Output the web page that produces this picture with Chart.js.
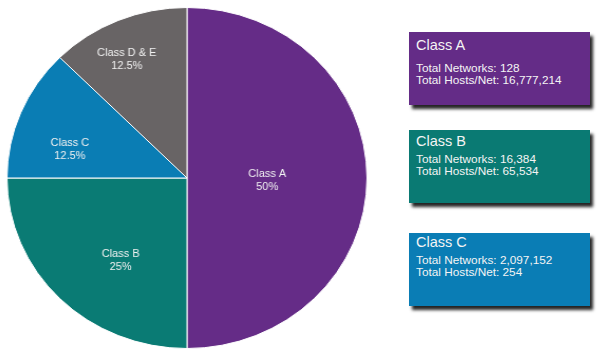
<!DOCTYPE html>
<html>
<head>
<meta charset="utf-8">
<script src="https://cdn.jsdelivr.net/npm/chart.js@4"></script>
<style>
  html, body { margin: 0; padding: 0; background: #fff; }
  body { width: 600px; height: 354px; position: relative; overflow: hidden; font-family: "Liberation Sans", Arial, sans-serif; }
  #pieWrap { position: absolute; left: 16px; top: 7px; width: 342px; height: 342px; transform: scaleX(1.0557); transform-origin: 50% 50%; }
  .info { position: absolute; left: 409px; width: 181px; height: 73px; color: #f4f4f4; box-shadow: 3px 4px 3px rgba(0,0,0,0.85); }
  .info .ttl { position: absolute; left: 7px; font-size: 14.5px; line-height: 16px; white-space: nowrap; }
  .info .ln { position: absolute; left: 7px; font-size: 11.8px; line-height: 12.5px; white-space: nowrap; }
</style>
</head>
<body>
<div id="pieWrap"><canvas id="pie"></canvas></div>
<div id="boxes"></div>
<script>
// pie data
const classes = ['Class A', 'Class B', 'Class C', 'Class D & E'];
const shares = [50, 25, 12.5, 12.5];
const sliceColors = ['#652c87', '#0a7b74', '#0a7db4', '#686465'];

// info boxes
const boxClasses = ['Class A', 'Class B', 'Class C'];
const totalNetworks = ['128', '16,384', '2,097,152'];
const hostsPerNet = ['16,777,214', '65,534', '254'];
const boxColors = ['#642c87', '#0a7a73', '#0a7db5'];

// label placement (fraction of radius, angle nudge in degrees)
const labelFrac = [0.446, 0.608, 0.671, 0.769];
const labelNudge = [2, -7.7, -8.3, -3.3];
const stretchX = 1.0557;

const sliceLabels = {
  id: 'sliceLabels',
  afterDatasetsDraw(chart) {
    const ctx = chart.ctx;
    const arcs = chart.getDatasetMeta(0).data;
    ctx.save();
    ctx.fillStyle = '#f2f2f2';
    ctx.font = '11px "Liberation Sans", Arial, sans-serif';
    ctx.textAlign = 'center';
    ctx.textBaseline = 'middle';
    arcs.forEach((arc, i) => {
      const p = arc.getProps(['x', 'y', 'startAngle', 'endAngle', 'outerRadius'], true);
      const mid = (p.startAngle + p.endAngle) / 2 + labelNudge[i] * Math.PI / 180;
      const r = p.outerRadius * labelFrac[i];
      const px = p.x + Math.cos(mid) * r;
      const py = p.y + Math.sin(mid) * r;
      ctx.save();
      ctx.translate(px, py);
      ctx.scale(1 / stretchX, 1);
      ctx.fillText(classes[i], 0, -6.5);
      ctx.fillText(shares[i] + '%', 0, 6.5);
      ctx.restore();
    });
    ctx.restore();
  }
};

new Chart(document.getElementById('pie'), {
  type: 'pie',
  data: {
    labels: classes,
    datasets: [{
      data: shares,
      backgroundColor: sliceColors,
      borderColor: '#ffffff',
      borderWidth: 1,
      hoverOffset: 0
    }]
  },
  options: {
    responsive: true,
    maintainAspectRatio: false,
    animation: false,
    layout: { padding: 0 },
    plugins: { legend: { display: false }, tooltip: { enabled: false } }
  },
  plugins: [sliceLabels]
});

// boxes: top, title offset, body offset
const boxTops = [32, 130, 233];
const titleTops = [4.5, 3, 1];
const bodyTops = [29.6, 22.8, 20.8];

const holder = document.getElementById('boxes');
boxClasses.forEach((name, i) => {
  const div = document.createElement('div');
  div.className = 'info';
  div.style.top = boxTops[i] + 'px';
  div.style.background = boxColors[i];
  div.innerHTML =
    `<div class="ttl" style="top:${titleTops[i]}px">${name}</div>` +
    `<div class="ln" style="top:${bodyTops[i]}px">Total Networks: ${totalNetworks[i]}</div>` +
    `<div class="ln" style="top:${bodyTops[i] + 12.3}px">Total Hosts/Net: ${hostsPerNet[i]}</div>`;
  holder.appendChild(div);
});
</script>
</body>
</html>
